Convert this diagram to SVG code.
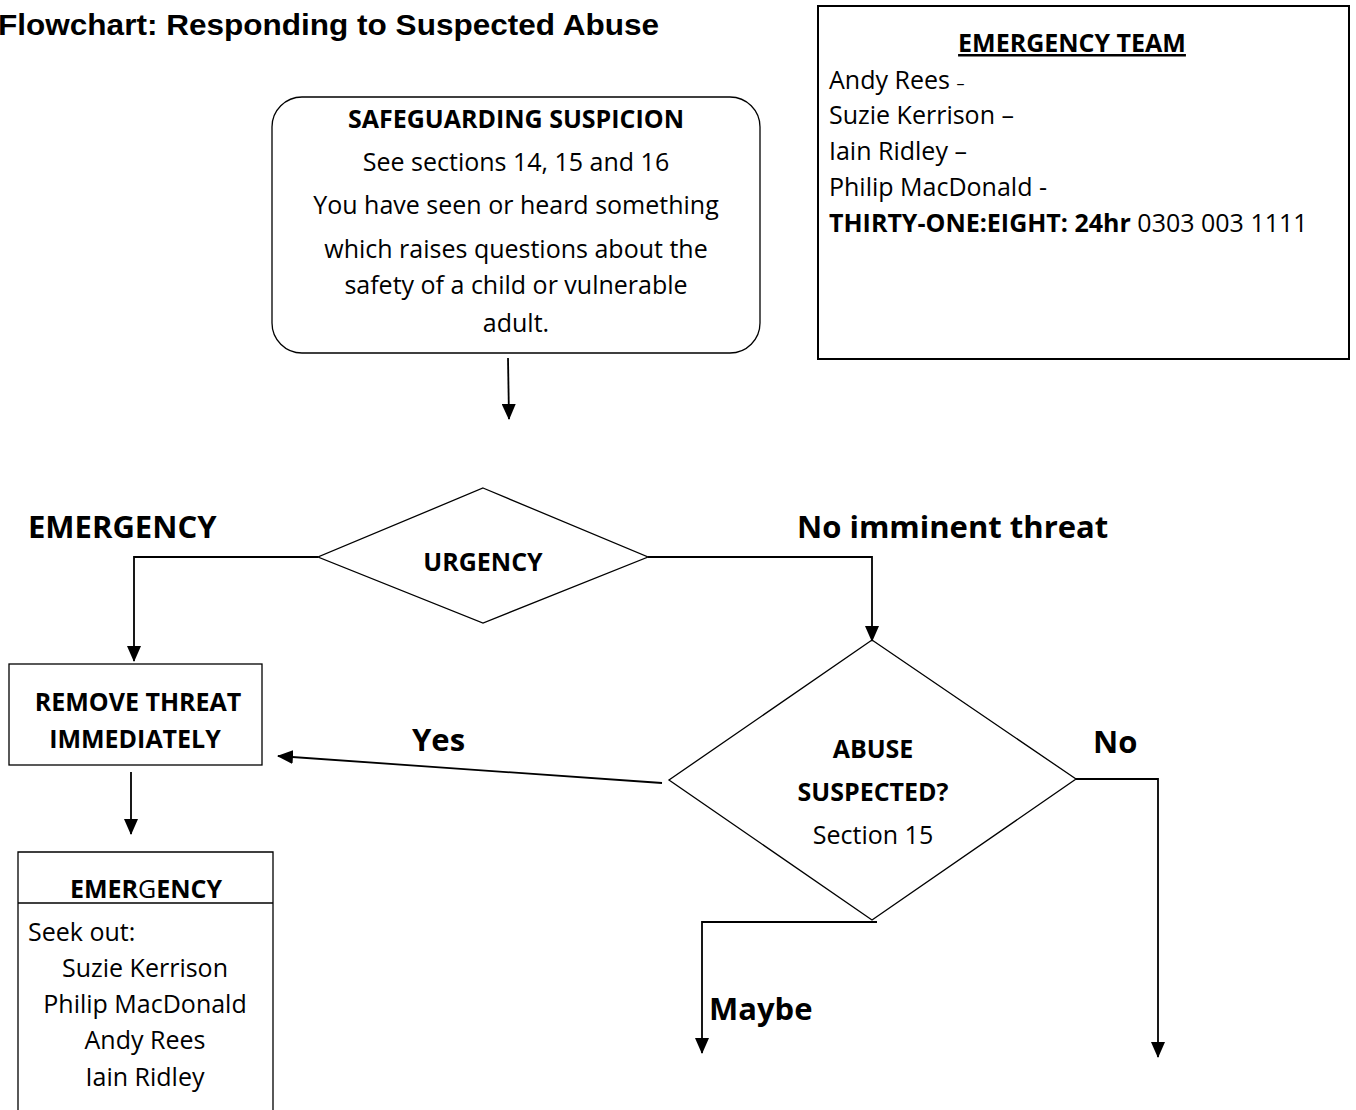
<svg xmlns="http://www.w3.org/2000/svg" width="1356" height="1110" viewBox="0 0 1356 1110">
<defs>
<marker id="ah" markerWidth="16" markerHeight="14" refX="15" refY="7" orient="auto" markerUnits="userSpaceOnUse">
<path d="M0,0 L16,7 L0,14 Z" fill="#000"/>
</marker>
</defs>
<style>
.t{font-family:"Open Sans","Noto Sans",sans-serif;font-size:25px;fill:#000}
.b{font-weight:bold}
.big{font-size:31px;font-weight:bold}
.c{text-anchor:middle}
.box{fill:#fff;stroke:#000;stroke-width:1.3}
.ln{fill:none;stroke:#000;stroke-width:1.8}
</style>
<rect width="1356" height="1110" fill="#fff"/>
<text x="-2" y="35" textLength="661" lengthAdjust="spacingAndGlyphs" style="font-family:'Liberation Sans',Arial,sans-serif;font-size:29px;font-weight:bold">Flowchart: Responding to Suspected Abuse</text>

<g id="team">
<rect x="818" y="6" width="531" height="353" fill="#fff" stroke="#000" stroke-width="2"/>
<text class="t b c" x="1072" y="52" text-decoration="underline">EMERGENCY TEAM</text>
<text class="t" x="829" y="89">Andy Rees <tspan font-size="16">–</tspan></text>
<text class="t" x="829" y="124">Suzie Kerrison –</text>
<text class="t" x="829" y="160">Iain Ridley –</text>
<text class="t" x="829" y="196">Philip MacDonald -</text>
<text class="t" x="829" y="232"><tspan class="b">THIRTY-ONE:EIGHT: 24hr</tspan> 0303 003 1111</text>
</g>

<g id="suspicion">
<rect x="272" y="97" width="488" height="256" rx="30" ry="30" class="box"/>
<text class="t b c" x="516" y="128">SAFEGUARDING SUSPICION</text>
<text class="t c" x="516" y="171">See sections 14, 15 and 16</text>
<text class="t c" x="516" y="214">You have seen or heard something</text>
<text class="t c" x="516" y="258">which raises questions about the</text>
<text class="t c" x="516" y="294">safety of a child or vulnerable</text>
<text class="t c" x="516" y="332">adult.</text>
</g>

<g id="urgency">
<polygon points="483,488 648,557 483,623 318,557" class="box"/>
<text class="t b c" x="483" y="571">URGENCY</text>
</g>

<g id="remove">
<rect x="9" y="664" width="253" height="101" class="box"/>
<text class="t b c" x="138" y="711">REMOVE THREAT</text>
<text class="t b c" x="135" y="748">IMMEDIATELY</text>
</g>

<g id="abuse">
<polygon points="872,640 1076,779 872,920 669,780" class="box"/>
<text class="t b c" x="873" y="758">ABUSE</text>
<text class="t b c" x="873" y="801">SUSPECTED?</text>
<text class="t c" x="873" y="844">Section 15</text>
</g>

<g id="emergency">
<path d="M18,1110 L18,852 L273,852 L273,1110" class="box"/>
<line x1="18" y1="903" x2="273" y2="903" stroke="#000" stroke-width="1.3"/>
<text class="t c" x="146" y="898"><tspan class="b">EMER</tspan>G<tspan class="b">ENCY</tspan></text>
<text class="t" x="28" y="941">Seek out:</text>
<text class="t c" x="145" y="977">Suzie Kerrison</text>
<text class="t c" x="145" y="1013">Philip MacDonald</text>
<text class="t c" x="145" y="1049">Andy Rees</text>
<text class="t c" x="145" y="1086">Iain Ridley</text>
</g>

<g id="labels">
<text class="t big" x="28" y="538">EMERGENCY</text>
<text class="t big" x="797" y="538">No imminent threat</text>
<text class="t big" x="412" y="751">Yes</text>
<text class="t big" x="1093" y="753">No</text>
<text class="t big" x="709" y="1020">Maybe</text>
</g>

<g id="connectors">
<line x1="508" y1="358" x2="509" y2="419" class="ln" marker-end="url(#ah)"/>
<polyline points="318,557 134,557 134,661" class="ln" marker-end="url(#ah)"/>
<polyline points="648,557 872,557 872,641" class="ln" marker-end="url(#ah)"/>
<line x1="131" y1="772" x2="131" y2="834" class="ln" marker-end="url(#ah)"/>
<line x1="662" y1="783" x2="278" y2="756" class="ln" marker-end="url(#ah)"/>
<polyline points="1076,779 1158,779 1158,1057" class="ln" marker-end="url(#ah)"/>
<polyline points="877,922 702,922 702,1053" class="ln" marker-end="url(#ah)"/>
</g>
</svg>
